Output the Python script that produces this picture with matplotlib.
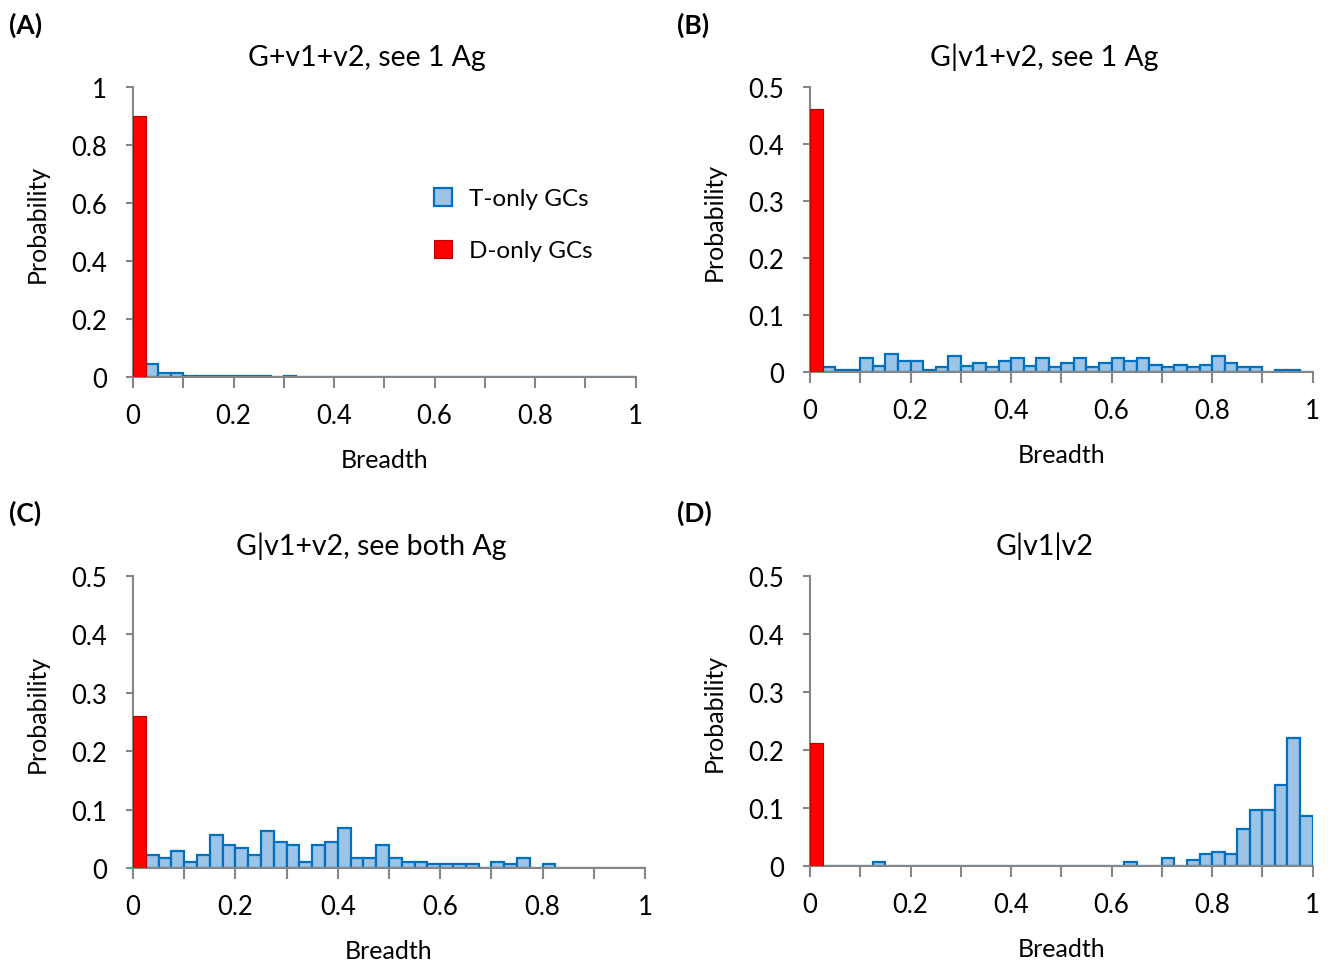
import numpy as np
import matplotlib.pyplot as plt
from matplotlib.patches import Patch

plt.rcParams['font.family'] = ['Lato', 'DejaVu Sans']

# bin edges: 40 bins of width 0.025 over breadth 0..1
bin_width = 0.025
bin_left = np.arange(40) * bin_width

# D-only GCs (all in first bin)
red_a = 0.90
red_b = 0.461
red_c = 0.261
red_d = 0.212

# T-only GCs, probability per bin
blue_a = [0, 0.044, 0.014, 0.014, 0.005, 0.005, 0.002, 0.002, 0.002, 0.002,
          0.002, 0, 0.002, 0, 0, 0, 0, 0, 0, 0,
          0, 0, 0, 0, 0, 0, 0, 0, 0, 0,
          0, 0, 0, 0, 0, 0, 0, 0, 0, 0]
blue_b = [0, 0.009, 0.003, 0.003, 0.025, 0.011, 0.032, 0.019, 0.019, 0.004,
          0.009, 0.028, 0.011, 0.016, 0.009, 0.019, 0.025, 0.011, 0.025, 0.009,
          0.016, 0.025, 0.009, 0.016, 0.025, 0.019, 0.025, 0.012, 0.009, 0.012,
          0.009, 0.012, 0.028, 0.016, 0.009, 0.009, 0, 0.003, 0.003, 0]
blue_c = [0, 0.022, 0.017, 0.029, 0.011, 0.022, 0.057, 0.040, 0.034, 0.022,
          0.064, 0.045, 0.040, 0.011, 0.040, 0.045, 0.068, 0.017, 0.017, 0.040,
          0.017, 0.011, 0.011, 0.006, 0.006, 0.006, 0.006, 0, 0.011, 0.006,
          0.017, 0, 0.006, 0, 0, 0, 0, 0, 0, 0]
blue_d = [0, 0, 0, 0, 0, 0.006, 0, 0, 0, 0,
          0, 0, 0, 0, 0, 0, 0, 0, 0, 0,
          0, 0, 0, 0, 0, 0.006, 0, 0, 0.014, 0,
          0.010, 0.020, 0.024, 0.020, 0.063, 0.097, 0.097, 0.140, 0.221, 0.086]

titles = ['G+v1+v2, see 1 Ag', 'G|v1+v2, see 1 Ag',
          'G|v1+v2, see both Ag', 'G|v1|v2']
letters = ['(A)', '(B)', '(C)', '(D)']

blue_fill = '#9DC3E6'
blue_edge = '#0070C0'
red_fill = '#FF0000'
red_edge = '#C00000'
axis_grey = '#868686'

fig = plt.figure(figsize=(13.33, 9.62), dpi=100)

positions = [[0.0998, 0.607, 0.377, 0.3015],
             [0.6077, 0.6123, 0.377, 0.2963],
             [0.0998, 0.0967, 0.384, 0.3035],
             [0.6077, 0.0988, 0.377, 0.3015]]
reds = [red_a, red_b, red_c, red_d]
blues = [blue_a, blue_b, blue_c, blue_d]
ymaxes = [1.0, 0.5, 0.5, 0.5]
letter_pos = [(0.007, 0.974), (0.508, 0.974), (0.007, 0.466), (0.508, 0.466)]

for i in range(4):
    ax = fig.add_axes(positions[i])
    b = np.array(blues[i])
    ax.bar(bin_left[1:], b[1:], width=bin_width, align='edge',
           color=blue_fill, edgecolor=blue_edge, linewidth=1.6, zorder=2)
    ax.bar([0], [reds[i]], width=bin_width, align='edge',
           color=red_fill, edgecolor=red_edge, linewidth=0.8, zorder=3)

    ax.set_xlim(0, 1)
    ax.set_ylim(0, ymaxes[i])
    xt = np.round(np.arange(0, 1.01, 0.1), 1)
    ax.set_xticks(xt)
    ax.set_xticklabels([f'{v:g}' if k % 2 == 0 else '' for k, v in enumerate(xt)])
    if ymaxes[i] == 1.0:
        yt = np.round(np.arange(0, 1.01, 0.2), 1)
    else:
        yt = np.round(np.arange(0, 0.51, 0.1), 1)
    ax.set_yticks(yt)
    ax.set_yticklabels([f'{v:g}' for v in yt])

    for s in ['top', 'right']:
        ax.spines[s].set_visible(False)
    for s in ['left', 'bottom']:
        ax.spines[s].set_color(axis_grey)
        ax.spines[s].set_linewidth(1.5)
    ax.tick_params(axis='x', direction='out', length=8, width=1.5,
                   color=axis_grey, labelsize=18.5, pad=11)
    ax.tick_params(axis='y', direction='out', length=5, width=1.5,
                   color=axis_grey, labelsize=18.5, pad=14)

    ax.set_xlabel('Breadth', fontsize=18, labelpad=14)
    ax.set_ylabel('Probability', fontsize=18, labelpad=16)
    ax.yaxis.label.set_y(0.53)
    ax.set_title(titles[i], fontsize=20.5, pad=16, x=0.466)
    fig.text(letter_pos[i][0], letter_pos[i][1], letters[i],
             fontsize=19, fontweight='bold', ha='left', va='center')

    if i == 0:
        handles = [Patch(facecolor=blue_fill, edgecolor=blue_edge, linewidth=1.6),
                   Patch(facecolor=red_fill, edgecolor=red_edge, linewidth=0.8)]
        ax.legend(handles, ['T-only GCs', 'D-only GCs'], loc='upper left',
                  bbox_to_anchor=(0.58, 0.685), frameon=False, fontsize=17.5,
                  handlelength=0.75, handleheight=0.75, labelspacing=1.25,
                  handletextpad=0.7, borderaxespad=0)

fig.savefig('out.png', dpi=100)
